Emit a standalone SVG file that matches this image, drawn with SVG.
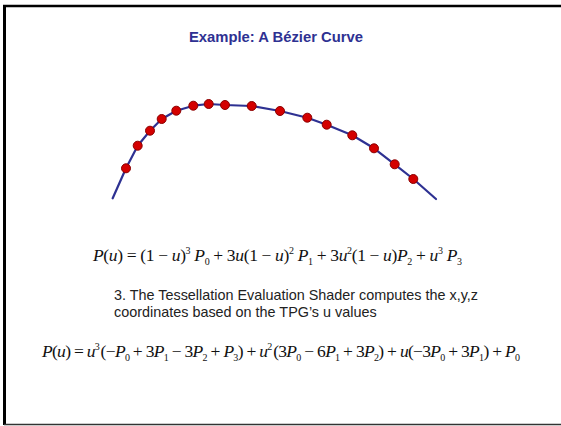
<svg xmlns="http://www.w3.org/2000/svg" width="561" height="426" viewBox="0 0 561 426">
<style>
.title{font-family:"Liberation Sans",Arial,sans-serif;font-weight:bold;font-size:14.8px;fill:#2e3192}
.body{font-family:"Liberation Sans",Arial,sans-serif;font-size:14.4px;fill:#222}
.eq{font-family:"Liberation Serif","Times New Roman",serif;font-size:17.5px;fill:#111}
.i{font-style:italic}
.s{font-size:10px}
.dot{fill:#d40000;stroke:#8b0000;stroke-width:1}
.curve{fill:none;stroke:#2e3192;stroke-width:2.2;stroke-linejoin:round;stroke-linecap:round}
</style>
<rect x="0" y="0" width="561" height="426" fill="#fff"/>
<g id="frame">
<line x1="3" y1="6" x2="561" y2="6" stroke="#000" stroke-width="2.5"/>
<line x1="4.5" y1="5" x2="4.5" y2="425" stroke="#000" stroke-width="3"/>
<line x1="4" y1="424.5" x2="561" y2="424.5" stroke="#333" stroke-width="1.5"/>
</g>
<text id="title" class="title" x="276" y="42" text-anchor="middle">Example: A Bézier Curve</text>
<g id="curve">
<path class="curve" d="M112.7,198.3 L126,168.3 L137.7,145.7 L150,130.7 L161.7,119 L176.3,110.7 L193.3,105.7 L208.7,104 L225,105 L251.7,106 L280,111 L307.3,117.7 L326.7,124.7 L352.3,135.3 L374,148.3 L394.7,164.3 L413.3,179 L436,199"/>
<circle class="dot" cx="126" cy="168.3" r="4.5"/>
<circle class="dot" cx="137.7" cy="145.7" r="4.5"/>
<circle class="dot" cx="150" cy="130.7" r="4.5"/>
<circle class="dot" cx="161.7" cy="119" r="4.5"/>
<circle class="dot" cx="176.3" cy="110.7" r="4.5"/>
<circle class="dot" cx="193.3" cy="105.7" r="4.5"/>
<circle class="dot" cx="208.7" cy="104" r="4.5"/>
<circle class="dot" cx="225" cy="105" r="4.5"/>
<circle class="dot" cx="251.7" cy="106" r="4.5"/>
<circle class="dot" cx="280" cy="111" r="4.5"/>
<circle class="dot" cx="307.3" cy="117.7" r="4.5"/>
<circle class="dot" cx="326.7" cy="124.7" r="4.5"/>
<circle class="dot" cx="352.3" cy="135.3" r="4.5"/>
<circle class="dot" cx="374" cy="148.3" r="4.5"/>
<circle class="dot" cx="394.7" cy="164.3" r="4.5"/>
<circle class="dot" cx="413.3" cy="179" r="4.5"/>
</g>
<text id="eq1" class="eq" x="93" y="261" textLength="369" lengthAdjust="spacing"><tspan class="i">P</tspan>(<tspan class="i">u</tspan>) = (1 − <tspan class="i">u</tspan>)<tspan class="s" dy="-7">3</tspan><tspan class="i" dy="7"> P</tspan><tspan class="s" dy="4">0</tspan><tspan dy="-4"> + 3</tspan><tspan class="i">u</tspan>(1 − <tspan class="i">u</tspan>)<tspan class="s" dy="-7">2</tspan><tspan class="i" dy="7"> P</tspan><tspan class="s" dy="4">1</tspan><tspan dy="-4"> + 3</tspan><tspan class="i">u</tspan><tspan class="s" dy="-7">2</tspan><tspan dy="7">(1 − </tspan><tspan class="i">u</tspan>)<tspan class="i">P</tspan><tspan class="s" dy="4">2</tspan><tspan dy="-4"> + </tspan><tspan class="i">u</tspan><tspan class="s" dy="-7">3</tspan><tspan class="i" dy="7"> P</tspan><tspan class="s" dy="4">3</tspan></text>
<text id="note" class="body" x="114" y="300">3. The Tessellation Evaluation Shader computes the x,y,z<tspan x="114" y="317">coordinates based on the TPG’s u values</tspan></text>
<text id="eq2" class="eq" x="42" y="357" textLength="478" lengthAdjust="spacing"><tspan class="i">P</tspan>(<tspan class="i">u</tspan>) = <tspan class="i">u</tspan><tspan class="s" dy="-7">3</tspan><tspan dy="7" dx="1.5">(−</tspan><tspan class="i">P</tspan><tspan class="s" dy="4">0</tspan><tspan dy="-4"> + 3</tspan><tspan class="i">P</tspan><tspan class="s" dy="4">1</tspan><tspan dy="-4"> − 3</tspan><tspan class="i">P</tspan><tspan class="s" dy="4">2</tspan><tspan dy="-4"> + </tspan><tspan class="i">P</tspan><tspan class="s" dy="4">3</tspan><tspan dy="-4">) + </tspan><tspan class="i">u</tspan><tspan class="s" dy="-7">2</tspan><tspan dy="7" dx="1.5">(3</tspan><tspan class="i">P</tspan><tspan class="s" dy="4">0</tspan><tspan dy="-4"> − 6</tspan><tspan class="i">P</tspan><tspan class="s" dy="4">1</tspan><tspan dy="-4"> + 3</tspan><tspan class="i">P</tspan><tspan class="s" dy="4">2</tspan><tspan dy="-4">) + </tspan><tspan class="i">u</tspan>(−3<tspan class="i">P</tspan><tspan class="s" dy="4">0</tspan><tspan dy="-4"> + 3</tspan><tspan class="i">P</tspan><tspan class="s" dy="4">1</tspan><tspan dy="-4">) + </tspan><tspan class="i">P</tspan><tspan class="s" dy="4">0</tspan></text>
</svg>
